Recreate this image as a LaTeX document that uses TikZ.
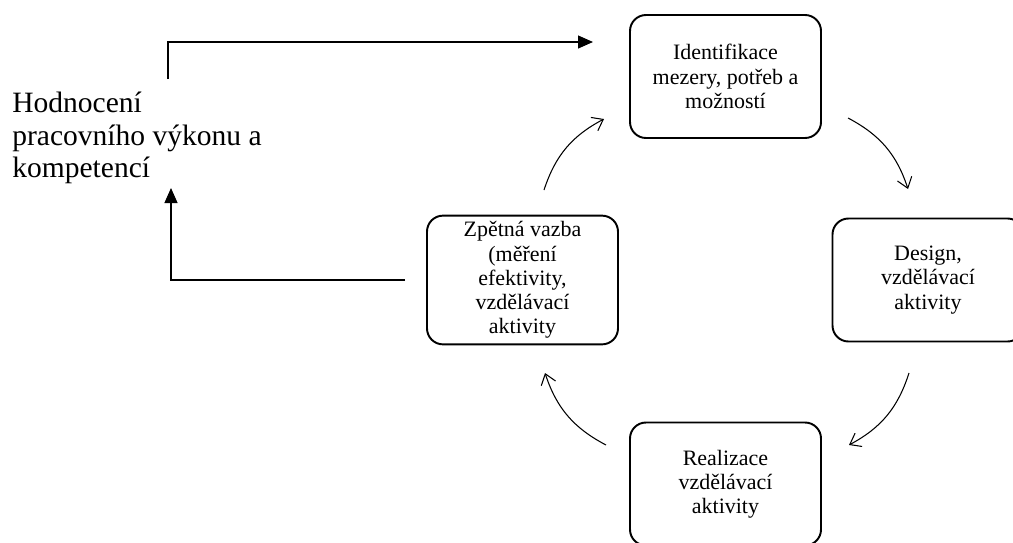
\documentclass[tikz,border=0pt]{standalone}
\usepackage{fontspec}
\setmainfont{Liberation Serif}
\usetikzlibrary{arrows.meta}
\usetikzlibrary{positioning}
\tikzset{krok/.style = {draw, rounded corners = 0.32cm, line width = 1.1pt,
                        minimum width = 3.82cm, minimum height = 2.46cm,
                        align = center, font = \fontsize{12.5}{13.8}\selectfont}}
\tikzset{cyklus/.style = {line width = 0.6pt, bend left = 22,
                          -{Straight Barb[length = 0.2cm, width = 0.3cm]}}}
\tikzset{zpet/.style = {line width = 0.7pt,
                        -{Triangle[length = 0.3cm, width = 0.26cm]}}}

\begin{document}
\begin{tikzpicture}
      \clip (0, 0) rectangle (20.26, 10.84);
      \node [krok] (ident) at (14.51, 9.31) {Identifikace\\mezery, potřeb a\\možností};
      \node [krok] (design) at (18.56, 5.24) {Design,\\vzdělávací\\aktivity};
      \node [krok] (realiz) at (14.51, 1.16) {Realizace\\vzdělávací\\aktivity};
      \node [krok] (zpetna) at (10.45, 5.24) {Zpětná vazba\\(měření\\efektivity,\\vzdělávací\\aktivity};
      \node [anchor = north west, inner sep = 0, align = left,
             font = \fontsize{16.8}{18.5}\selectfont] (hodnoc) at (0.24, 9.0)
            {Hodnocení\\pracovního výkonu a\\kompetencí};
      % cyklus
      \coordinate (z1) at (10.88, 7.04);
      \coordinate (i1) at (12.08, 8.46);
      \coordinate (i2) at (16.96, 8.48);
      \coordinate (d1) at (18.16, 7.06);
      \coordinate (d2) at (18.18, 3.38);
      \coordinate (r1) at (16.98, 1.94);
      \coordinate (r2) at (12.12, 1.94);
      \coordinate (z2) at (10.90, 3.38);
      \draw [cyklus] (z1) to (i1);
      \draw [cyklus] (i2) to (d1);
      \draw [cyklus] (d2) to (r1);
      \draw [cyklus] (r2) to (z2);
      % hodnoceni
      \coordinate (hodhore) at (3.36, 9.26);
      \coordinate (identvstup) at (11.86, 10.0);
      \coordinate (hoddole) at (3.42, 7.08);
      \draw [zpet] (hodhore) |- (identvstup);
      \draw [zpet, shorten <= 0.42cm] (zpetna.west) -| (hoddole);
\end{tikzpicture}
\end{document}
